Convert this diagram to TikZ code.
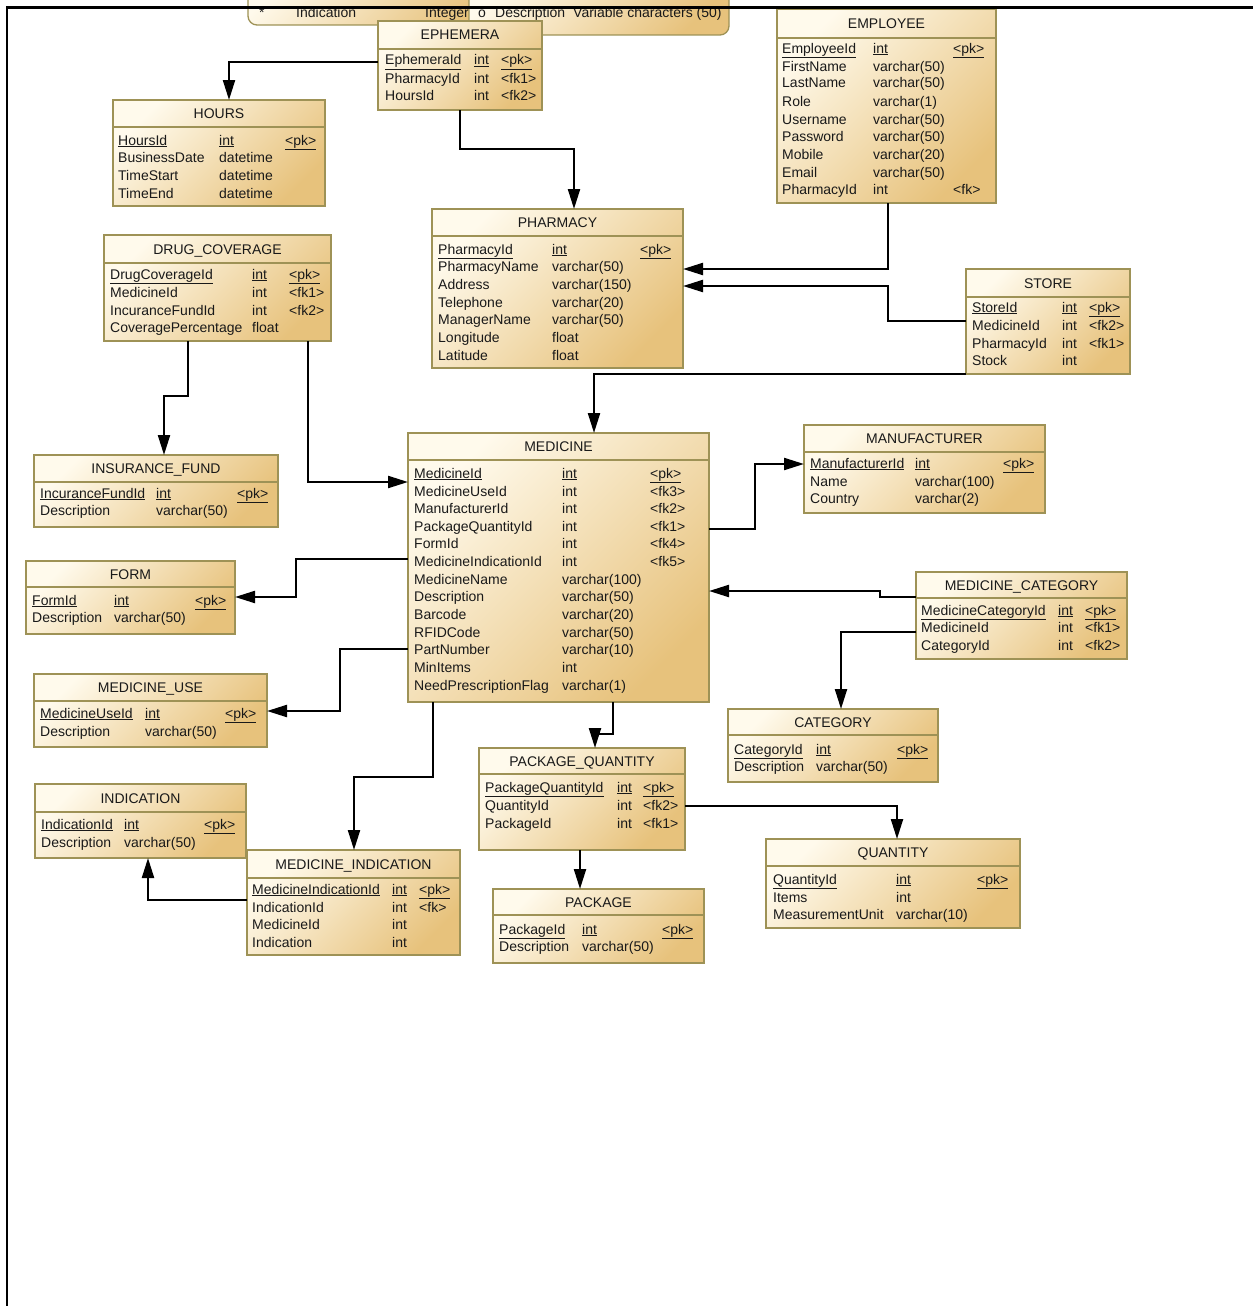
\documentclass[tikz,border=0pt]{standalone}
\usepackage{fontspec}
\setmainfont{Liberation Sans}
\usetikzlibrary{arrows.meta}

\definecolor{boxlight}{RGB}{255,250,236}
\definecolor{boxdark}{RGB}{231,194,124}
\definecolor{boxedge}{RGB}{158,146,86}
\definecolor{inktext}{RGB}{25,25,25}

\tikzset{
  tbl/.style={draw=boxedge, line width=1.3pt, top color=boxlight, bottom color=boxdark,
    shading angle=45, inner sep=0pt, outer sep=0pt, anchor=north west},
  sepline/.style={draw=boxedge, line width=1.1pt},
  fld/.style={anchor=base west, inner sep=0pt, text=inktext, font=\fontsize{14}{16}\selectfont},
  ttl/.style={anchor=base, inner sep=0pt, text=inktext, font=\fontsize{14}{16}\selectfont},
  rel/.style={line width=2.2pt, -{Triangle[length=20pt,width=12pt]}},
  frameline/.style={line width=2.5pt},
}

% one entity box: id, left x, top y, width, height, header rule y, title
\newcommand{\erTable}[7]{%
  \node[tbl, minimum width=#4pt, minimum height=#5pt] (#1) at (#2,#3) {};
  \draw[sepline] (#1.west |- 0,#6) -- (#1.east |- 0,#6);
  \pgfmathsetmacro\erTy{(#3+#6)/2+5}%
  \pgfmathsetmacro\erTx{#2+#4/2}%
  \node[ttl] (#1-title) at (\erTx,\erTy) {#7};
}
% one attribute line: id, centre y, name, type, key (columns from \colA \colB \colC)
\newcommand{\erRow}[5]{%
  \node[fld] (#1-n) at (\colA,#2+5) {#3};
  \node[fld] (#1-t) at (\colB,#2+5) {#4};
  \def\erKey{#5}%
  \ifx\erKey\empty\else\node[fld] (#1-k) at (\colC,#2+5) {#5};\fi
}
\newcommand{\ul}[1]{\underline{#1}}

\begin{document}
\begin{tikzpicture}[x=1pt, y=-1pt]
\useasboundingbox (0,0) rectangle (1253,1306);
\fill[white] (0,0) rectangle (1253,1306);

% partly visible entities at the top edge
\draw[draw=boxedge, line width=1.3pt, top color=boxlight, bottom color=boxdark,
  shading angle=45, rounded corners=9pt] (248,-30) rectangle (500,25);
\node[fld] (topa-star) at (259,18) {*};
\node[fld] (topa-name) at (296,18) {Indication};
\node[fld] (topa-type) at (425,18) {Integer};
\draw[draw=boxedge, line width=1.3pt, top color=boxlight, bottom color=boxdark,
  shading angle=45, rounded corners=9pt] (469,-30) rectangle (729,35);
\node[fld] (topb-mark) at (478,18) {o};
\node[fld] (topb-name) at (495,18) {Description};
\node[fld] (topb-type) at (573,18) {Variable characters (50)};

% EPHEMERA
\erTable{ephemera}{378}{21}{164}{89}{49}{EPHEMERA}
\def\colA{385}\def\colB{474}\def\colC{501}
\erRow{eph1}{60}{\ul{EphemeraId}}{\ul{int}}{\ul{<pk>}}
\erRow{eph2}{78}{PharmacyId}{int}{<fk1>}
\erRow{eph3}{95}{HoursId}{int}{<fk2>}

% HOURS
\erTable{hours}{113}{100}{212}{106}{127}{HOURS}
\def\colA{118}\def\colB{219}\def\colC{285}
\erRow{hrs1}{140}{\ul{HoursId}}{\ul{int}}{\ul{<pk>}}
\erRow{hrs2}{157}{BusinessDate}{datetime}{}
\erRow{hrs3}{175}{TimeStart}{datetime}{}
\erRow{hrs4}{193}{TimeEnd}{datetime}{}

% DRUG_COVERAGE
\erTable{drugcov}{104}{235}{227}{106}{263}{DRUG\_COVERAGE}
\def\colA{110}\def\colB{252}\def\colC{289}
\erRow{dc1}{274}{\ul{DrugCoverageId}}{\ul{int}}{\ul{<pk>}}
\erRow{dc2}{292}{MedicineId}{int}{<fk1>}
\erRow{dc3}{310}{IncuranceFundId}{int}{<fk2>}
\erRow{dc4}{327}{CoveragePercentage}{float}{}

% PHARMACY
\erTable{pharmacy}{432}{209}{251}{159}{236}{PHARMACY}
\def\colA{438}\def\colB{552}\def\colC{640}
\erRow{ph1}{249}{\ul{PharmacyId}}{\ul{int}}{\ul{<pk>}}
\erRow{ph2}{266}{PharmacyName}{varchar(50)}{}
\erRow{ph3}{284}{Address}{varchar(150)}{}
\erRow{ph4}{302}{Telephone}{varchar(20)}{}
\erRow{ph5}{319}{ManagerName}{varchar(50)}{}
\erRow{ph6}{337}{Longitude}{float}{}
\erRow{ph7}{355}{Latitude}{float}{}

% EMPLOYEE
\erTable{employee}{777}{9}{219}{194}{38}{EMPLOYEE}
\def\colA{782}\def\colB{873}\def\colC{953}
\erRow{em1}{48}{\ul{EmployeeId}}{\ul{int}}{\ul{<pk>}}
\erRow{em2}{66}{FirstName}{varchar(50)}{}
\erRow{em3}{83}{LastName}{varchar(50)}{}
\erRow{em4}{101}{Role}{varchar(1)}{}
\erRow{em5}{119}{Username}{varchar(50)}{}
\erRow{em6}{136}{Password}{varchar(50)}{}
\erRow{em7}{154}{Mobile}{varchar(20)}{}
\erRow{em8}{172}{Email}{varchar(50)}{}
\erRow{em9}{189}{PharmacyId}{int}{<fk>}

% STORE
\erTable{store}{966}{269}{164}{105}{297}{STORE}
\def\colA{972}\def\colB{1062}\def\colC{1089}
\erRow{st1}{307}{\ul{StoreId}}{\ul{int}}{\ul{<pk>}}
\erRow{st2}{325}{MedicineId}{int}{<fk2>}
\erRow{st3}{343}{PharmacyId}{int}{<fk1>}
\erRow{st4}{360}{Stock}{int}{}

% MEDICINE
\erTable{medicine}{408}{433}{301}{269}{460}{MEDICINE}
\def\colA{414}\def\colB{562}\def\colC{650}
\erRow{md1}{473}{\ul{MedicineId}}{\ul{int}}{\ul{<pk>}}
\erRow{md2}{491}{MedicineUseId}{int}{<fk3>}
\erRow{md3}{508}{ManufacturerId}{int}{<fk2>}
\erRow{md4}{526}{PackageQuantityId}{int}{<fk1>}
\erRow{md5}{543}{FormId}{int}{<fk4>}
\erRow{md6}{561}{MedicineIndicationId}{int}{<fk5>}
\erRow{md7}{579}{MedicineName}{varchar(100)}{}
\erRow{md8}{596}{Description}{varchar(50)}{}
\erRow{md9}{614}{Barcode}{varchar(20)}{}
\erRow{md10}{632}{RFIDCode}{varchar(50)}{}
\erRow{md11}{649}{PartNumber}{varchar(10)}{}
\erRow{md12}{667}{MinItems}{int}{}
\erRow{md13}{685}{NeedPrescriptionFlag}{varchar(1)}{}

% MANUFACTURER
\erTable{manuf}{804}{425}{241}{88}{452}{MANUFACTURER}
\def\colA{810}\def\colB{915}\def\colC{1003}
\erRow{mf1}{463}{\ul{ManufacturerId}}{\ul{int}}{\ul{<pk>}}
\erRow{mf2}{481}{Name}{varchar(100)}{}
\erRow{mf3}{498}{Country}{varchar(2)}{}

% MEDICINE_CATEGORY
\erTable{medcat}{916}{572}{211}{87}{598}{MEDICINE\_CATEGORY}
\def\colA{921}\def\colB{1058}\def\colC{1085}
\erRow{mc1}{610}{\ul{MedicineCategoryId}}{\ul{int}}{\ul{<pk>}}
\erRow{mc2}{627}{MedicineId}{int}{<fk1>}
\erRow{mc3}{645}{CategoryId}{int}{<fk2>}

% CATEGORY
\erTable{category}{728}{709}{210}{73}{735}{CATEGORY}
\def\colA{734}\def\colB{816}\def\colC{897}
\erRow{ct1}{749}{\ul{CategoryId}}{\ul{int}}{\ul{<pk>}}
\erRow{ct2}{766}{Description}{varchar(50)}{}

% INSURANCE_FUND
\erTable{insfund}{34}{455}{244}{72}{482}{INSURANCE\_FUND}
\def\colA{40}\def\colB{156}\def\colC{237}
\erRow{if1}{493}{\ul{IncuranceFundId}}{\ul{int}}{\ul{<pk>}}
\erRow{if2}{510}{Description}{varchar(50)}{}

% FORM
\erTable{form}{26}{561}{209}{73}{587}{FORM}
\def\colA{32}\def\colB{114}\def\colC{195}
\erRow{fm1}{600}{\ul{FormId}}{\ul{int}}{\ul{<pk>}}
\erRow{fm2}{617}{Description}{varchar(50)}{}

% MEDICINE_USE
\erTable{meduse}{34}{674}{233}{73}{701}{MEDICINE\_USE}
\def\colA{40}\def\colB{145}\def\colC{225}
\erRow{mu1}{713}{\ul{MedicineUseId}}{\ul{int}}{\ul{<pk>}}
\erRow{mu2}{731}{Description}{varchar(50)}{}

% INDICATION
\erTable{indication}{35}{784}{211}{74}{812}{INDICATION}
\def\colA{41}\def\colB{124}\def\colC{204}
\erRow{in1}{824}{\ul{IndicationId}}{\ul{int}}{\ul{<pk>}}
\erRow{in2}{842}{Description}{varchar(50)}{}

% MEDICINE_INDICATION
\erTable{medind}{247}{850}{213}{105}{878}{MEDICINE\_INDICATION}
\def\colA{252}\def\colB{392}\def\colC{419}
\erRow{mi1}{889}{\ul{MedicineIndicationId}}{\ul{int}}{\ul{<pk>}}
\erRow{mi2}{907}{IndicationId}{int}{<fk>}
\erRow{mi3}{924}{MedicineId}{int}{}
\erRow{mi4}{942}{Indication}{int}{}

% PACKAGE_QUANTITY
\erTable{pkgqty}{479}{748}{206}{102}{774}{PACKAGE\_QUANTITY}
\def\colA{485}\def\colB{617}\def\colC{643}
\erRow{pq1}{787}{\ul{PackageQuantityId}}{\ul{int}}{\ul{<pk>}}
\erRow{pq2}{805}{QuantityId}{int}{<fk2>}
\erRow{pq3}{823}{PackageId}{int}{<fk1>}

% PACKAGE
\erTable{package}{493}{889}{211}{74}{915}{PACKAGE}
\def\colA{499}\def\colB{582}\def\colC{662}
\erRow{pk1}{929}{\ul{PackageId}}{\ul{int}}{\ul{<pk>}}
\erRow{pk2}{946}{Description}{varchar(50)}{}

% QUANTITY
\erTable{quantity}{766}{839}{254}{89}{866}{QUANTITY}
\def\colA{773}\def\colB{896}\def\colC{977}
\erRow{qt1}{879}{\ul{QuantityId}}{\ul{int}}{\ul{<pk>}}
\erRow{qt2}{897}{Items}{int}{}
\erRow{qt3}{914}{MeasurementUnit}{varchar(10)}{}

% references
\draw[rel] (ephemera.west |- 0,62) -| (229,0 |- hours.north);
\draw[rel] (460,0 |- ephemera.south) |- (574,149) -- (574,0 |- pharmacy.north);
\draw[rel] (888,0 |- employee.south) |- (pharmacy.east |- 0,269);
\draw[rel] (store.west |- 0,321) -| (888,286) -- (pharmacy.east |- 0,286);
\draw[rel] (store.south west) -| (594,0 |- medicine.north);
\draw[rel] (188,0 |- drugcov.south) |- (164,396) -- (164,0 |- insfund.north);
\draw[rel] (308,0 |- drugcov.south) |- (medicine.west |- 0,482);
\draw[rel] (medicine.east |- 0,529) -| (755,464) -- (manuf.west |- 0,464);
\draw[rel] (medicine.west |- 0,559) -| (296,597) -- (form.east |- 0,597);
\draw[rel] (medicine.west |- 0,649) -| (340,711) -- (meduse.east |- 0,711);
\draw[rel] (medcat.west |- 0,597) -| (880,591) -- (medicine.east |- 0,591);
\draw[rel] (medcat.west |- 0,632) -| (841,0 |- category.north);
\draw[rel] (433,0 |- medicine.south) |- (354,777) -- (354,0 |- medind.north);
\draw[rel] (613,0 |- medicine.south) |- (595,734) -- (595,0 |- pkgqty.north);
\draw[rel] (pkgqty.east |- 0,806) -| (897,0 |- quantity.north);
\draw[rel] (580,0 |- pkgqty.south) -- (580,0 |- package.north);
\draw[rel] (medind.west |- 0,900) -| (148,0 |- indication.south);

% page frame
\draw[frameline] (7,1306) -- (7,7.5) -- (1253,7.5);
\end{tikzpicture}
\end{document}
